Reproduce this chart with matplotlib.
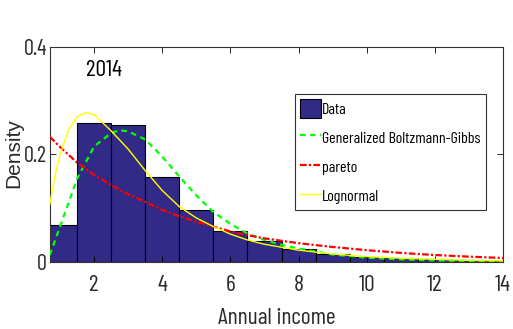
import matplotlib
matplotlib.use("Agg")
import matplotlib.pyplot as plt

# ---- data ----
bin_edges = [0.5, 1.5, 2.5, 3.5, 4.5, 5.5, 6.5, 7.5, 8.5, 9.5, 10.5, 11.5, 12.5, 13.5, 14.5]
bar_heights = [0.069, 0.259, 0.254, 0.158, 0.096, 0.057, 0.040, 0.024, 0.015, 0.010, 0.007, 0.005, 0.003, 0.002]

lognorm_x = [0.7, 0.85, 1.0, 1.25, 1.5, 1.75, 2.0, 2.5, 3.0, 3.5, 4.0, 4.5, 5.0, 5.5, 6.0, 6.5, 7.0, 8.0, 9.0, 10.0, 11.0, 12.0, 13.0, 14.0]
lognorm_y = [0.108, 0.160, 0.200, 0.246, 0.270, 0.278, 0.274, 0.244, 0.210, 0.170, 0.133, 0.103, 0.082, 0.066, 0.052, 0.041, 0.033, 0.022, 0.015, 0.010, 0.007, 0.005, 0.003, 0.002]

gbg_x = [0.7, 1.0, 1.25, 1.5, 2.0, 2.5, 2.75, 3.0, 3.5, 4.0, 4.5, 5.0, 5.5, 6.0, 6.5, 7.0, 7.5, 8.0, 9.0, 10.0, 11.0, 12.0, 13.0, 14.0]
gbg_y = [0.013, 0.066, 0.110, 0.155, 0.215, 0.240, 0.245, 0.243, 0.228, 0.196, 0.159, 0.124, 0.093, 0.071, 0.053, 0.041, 0.032, 0.025, 0.014, 0.008, 0.005, 0.003, 0.002, 0.001]

pareto_x = [0.7, 1.0, 1.5, 2.0, 2.5, 3.0, 3.5, 4.0, 4.5, 5.0, 5.5, 6.0, 6.5, 7.0, 8.0, 9.0, 10.0, 11.0, 12.0, 13.0, 14.0]
pareto_y = [0.233, 0.214, 0.185, 0.162, 0.143, 0.126, 0.112, 0.097, 0.085, 0.075, 0.066, 0.057, 0.050, 0.044, 0.035, 0.028, 0.022, 0.017, 0.013, 0.010, 0.0075]

x_ticks = [2, 4, 6, 8, 10, 12, 14]
y_ticks = [0, 0.2, 0.4]
y_tick_labels = ["0", "0.2", "0.4"]

narrow = ["Barlow Condensed", "Roboto Condensed", "Liberation Sans"]
txtcol = "#2a2a2a"

fig = plt.figure(figsize=(5.13, 3.29), dpi=100)
ax = fig.add_axes([0.0975, 0.2036, 0.8830, 0.6536])

widths = [bin_edges[i + 1] - bin_edges[i] for i in range(len(bar_heights))]
bars = ax.bar(bin_edges[:-1], bar_heights, width=widths, align="edge",
              color="#312A87", edgecolor="black", linewidth=0.8, label="Data", zorder=1)
l1, = ax.plot(gbg_x, gbg_y, color="#00FF00", linestyle=(0, (2.5, 2.0)), linewidth=1.6,
              label="Generalized Boltzmann-Gibbs", zorder=3)
l2, = ax.plot(pareto_x, pareto_y, color="#FF0000", linestyle=(0, (3, 1, 1, 1)), linewidth=1.6,
              label="pareto", zorder=3)
l3, = ax.plot(lognorm_x, lognorm_y, color="#FFFF00", linewidth=1.0, label="Lognormal", zorder=4)

ax.set_xlim(0.706, 14.0)
ax.set_ylim(0, 0.4)
ax.set_xticks(x_ticks)
ax.set_xticklabels([str(t) for t in x_ticks], family=narrow, fontsize=17, color=txtcol)
ax.set_yticks(y_ticks)
ax.set_yticklabels(y_tick_labels, family=narrow, fontsize=16, color=txtcol)
ax.tick_params(axis="x", direction="in", top=True, length=4, width=0.6, pad=9)
ax.tick_params(axis="y", direction="in", right=True, length=4, width=0.6, pad=2)
for s in ax.spines.values():
    s.set_linewidth(0.8)
    s.set_color("#333333")

ax.set_xlabel("Annual income", family=narrow, fontsize=17, color=txtcol, va="center")
ax.xaxis.set_label_coords(0.5, -0.265)
ax.set_ylabel("Density", family="Liberation Sans", fontsize=15, color=txtcol, va="center")
ax.yaxis.set_label_coords(-0.08, 0.507)
ax.text(2.3, 0.357, "2014", family=narrow, fontsize=17, ha="center", va="center", color="black")

leg = ax.legend(handles=[bars, l1, l2, l3], loc="upper left", bbox_to_anchor=(0.541, 0.781),
                frameon=True, fancybox=False,
                edgecolor="#333333", framealpha=1, prop={"family": narrow, "size": 11.5},
                handlelength=1.3, handleheight=1.5, handletextpad=0.1, borderpad=0.3,
                labelspacing=0.6, borderaxespad=0)
leg.get_frame().set_linewidth(0.8)

fig.savefig("out.png", dpi=100)
